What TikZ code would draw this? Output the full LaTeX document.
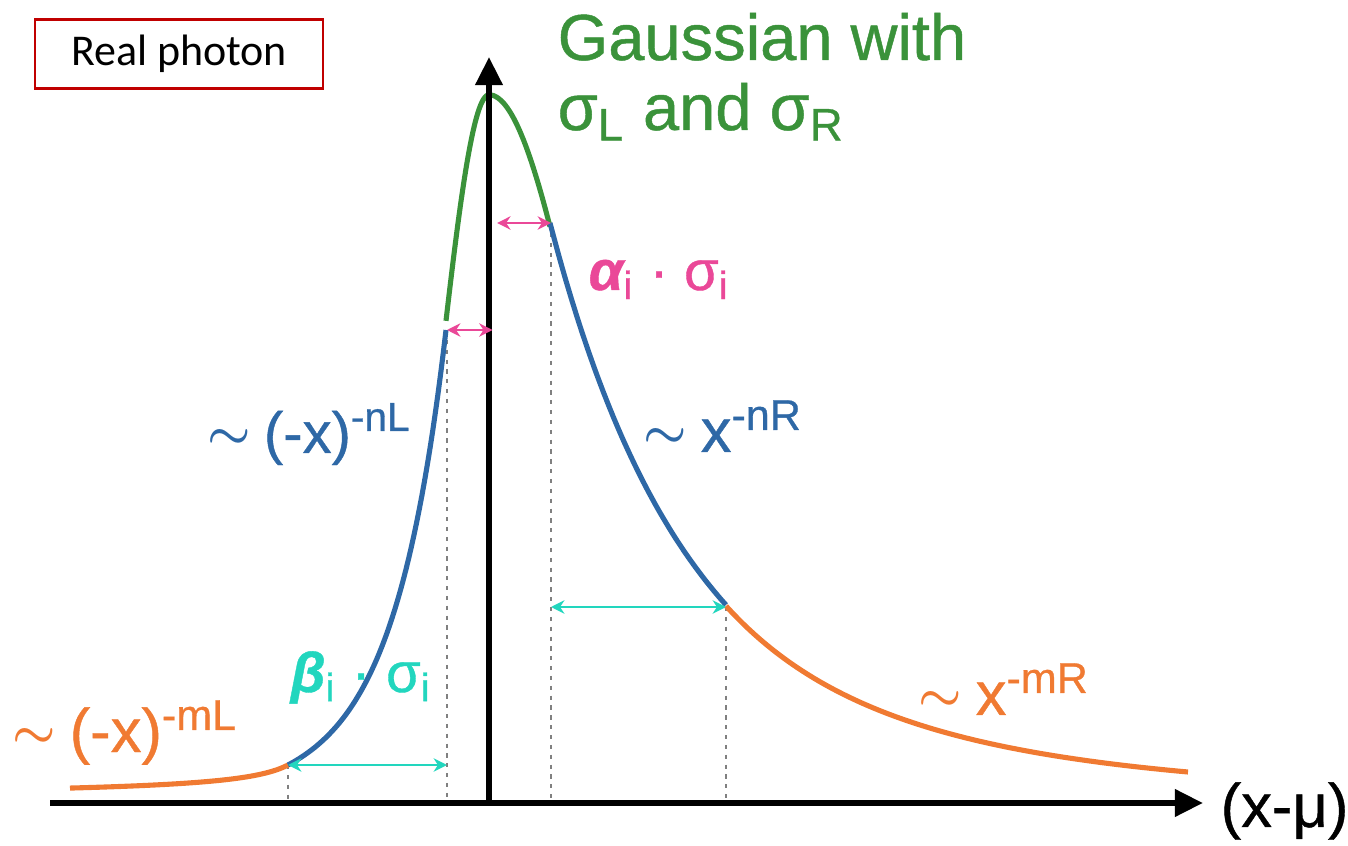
\documentclass[tikz,border=0pt]{standalone}
\usepackage{fontspec}
\setmainfont{Liberation Sans}
\newfontfamily\medfont{Liberation Sans}[FakeBold=0.7]
\newfontfamily\calib{Carlito}
\usepackage{xcolor}
\usepackage{graphicx}
\usetikzlibrary{arrows.meta}

\definecolor{gaussgreen}{RGB}{58,146,58}
\definecolor{tailblue}{RGB}{46,104,166}
\definecolor{tailorange}{RGB}{240,122,50}
\definecolor{alphapink}{RGB}{234,72,152}
\definecolor{betacyan}{RGB}{34,214,190}
\definecolor{boxred}{RGB}{192,0,0}
\definecolor{guidegray}{RGB}{128,128,128}

\tikzset{
  curve/.style={line width=1.45pt},
  axis/.style={line width=1.7pt,-{Triangle[length=8pt,width=7.5pt]}},
  guide/.style={guidegray,line width=0.75pt,dash pattern=on 1.2pt off 1.6pt},
  span/.style={line width=0.8pt,{Stealth[length=3.8pt,width=3.8pt]}-{Stealth[length=3.8pt,width=3.8pt]}},
  lbl/.style={inner sep=0pt,anchor=base west},
}
\newcommand{\tld}{\raisebox{0.08em}{\scalebox{0.8}{\boldmath$\sim$}}\hspace{0.22em}}

\begin{document}
\begin{tikzpicture}[x=0.01cm,y=-0.01cm]
  \useasboundingbox (0,0) rectangle (1348,846);

  \coordinate (xstart) at (50,803);
  \coordinate (xend)   at (1203,803);
  \coordinate (o)      at (489,803);
  \coordinate (yend)   at (489,57);
  \coordinate (tl) at (288,765);   % left tail junction
  \coordinate (gl) at (447,330);   % left core junction
  \coordinate (gr) at (551,223);   % right core junction
  \coordinate (tr) at (726,607);   % right tail junction

  % guides down to the axis
  \draw[guide] (tl) -- (tl |- o);
  \draw[guide] (gl) -- (gl |- o);
  \draw[guide] (gr) -- (gr |- o);
  \draw[guide] (tr) -- (tr |- o);

  % the shape, piece by piece
  \draw[curve,tailorange] plot[domain=70:288,samples=60]  (\x,{802-37*pow(1+(288-\x)/34.5,-0.491)});
  \draw[curve,tailblue]   plot[domain=288:446,samples=60] (\x,{802-472*pow(1+(446-\x)/550,-10.08)});
  \draw[curve,gaussgreen] plot[domain=446:489,samples=40] (\x,{802-707*exp(-0.5*((\x-489)/49)^2)})
                       -- plot[domain=489:550,samples=40] (\x,{802-707*exp(-0.5*((\x-489)/95)^2)});
  \draw[curve,tailblue]   plot[domain=550:726,samples=60] (\x,{802-579*pow(1+(\x-550)/1000,-6.65)});
  \draw[curve,tailorange] plot[domain=726:1188,samples=80] (\x,{802-196*pow(1+(\x-726)/530,-2.995)});

  \draw[axis] (xstart) -- (xend);
  \draw[axis] (o) -- (yend);

  % widths in units of sigma
  \draw[span,alphapink,shorten >=-1pt] (gl) -- (gl -| o);
  \draw[span,alphapink,shorten <=2.3pt] (gr -| o) -- (gr);
  \draw[span,betacyan] (tl) -- (gl |- tl);
  \draw[span,betacyan] (gr |- tr) -- (tr);

  % labels
  \node[draw=boxred,line width=0.6pt,minimum width=2.88cm,minimum height=0.69cm,font=\calib\fontsize{12.5}{14}\selectfont]
    (title) at (179,54) {Real photon};
  \node[lbl,gaussgreen,font=\medfont\fontsize{18.5}{20}\selectfont] (gauss1) at (557,60) {Gaussian with};
  \node[lbl,gaussgreen,font=\medfont\fontsize{18.5}{20}\selectfont] (gauss2) at (557,130)
    {σ\textsubscript{L} and σ\textsubscript{R}};
  \node[lbl,alphapink,font=\medfont\fontsize{16}{17}\selectfont] (alpha) at (588,290)
    {{\bfseries\itshape α}\textsubscript{i} · σ\textsubscript{i}};
  \node[lbl,betacyan,font=\medfont\fontsize{16}{17}\selectfont] (beta) at (290,692)
    {{\bfseries\itshape β}\textsubscript{i} · σ\textsubscript{i}};
  \node[lbl,tailblue,font=\medfont\fontsize{16.5}{18}\selectfont] (nl) at (207,453)
    {\tld(-x)\textsuperscript{-nL}};
  \node[lbl,tailblue,font=\medfont\fontsize{17.5}{19}\selectfont] (nr) at (643,452)
    {\tld x\textsuperscript{-nR}};
  \node[lbl,tailorange,font=\medfont\fontsize{17.5}{19}\selectfont] (ml) at (12,752)
    {\tld(-x)\textsuperscript{-mL}};
  \node[lbl,tailorange,font=\medfont\fontsize{17.5}{19}\selectfont] (mr) at (918,715)
    {\tld x\textsuperscript{-mR}};
  \node[lbl,font=\medfont\fontsize{17.5}{19}\selectfont] (xmu) at (1220,827) {(x-μ)};
\end{tikzpicture}
\end{document}
